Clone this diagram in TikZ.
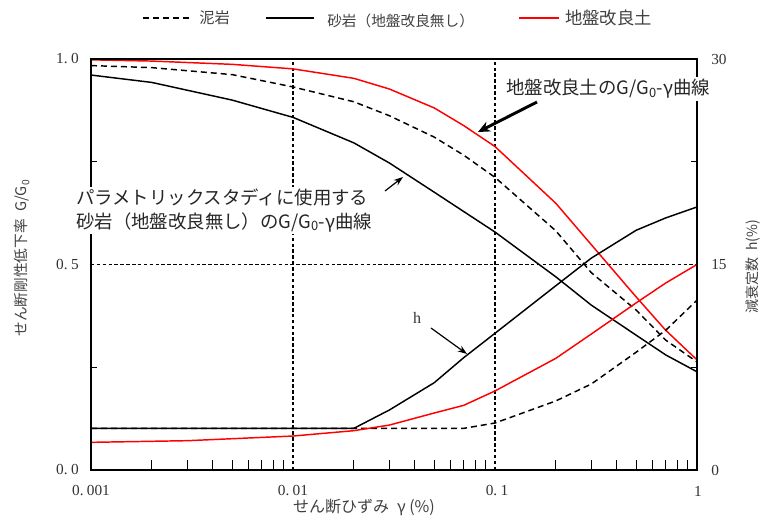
\documentclass[tikz,border=0pt]{standalone}
\usepackage{fontspec}
\setmainfont{Liberation Serif}
\newfontfamily\jp{Noto Sans CJK JP}
\usetikzlibrary{arrows.meta}
\begin{document}
\begin{tikzpicture}[x=0.75pt,y=-0.75pt,
  curve/.style={line width=1.1pt, line join=round},
  mud/.style={curve, dash pattern=on 4.5pt off 3pt},
  sand/.style={curve, black},
  imp/.style={curve, red},
  gridline/.style={line width=0.8pt, dash pattern=on 2.6pt off 1.8pt},
  framebox/.style={line width=1.5pt},
  tickmark/.style={line width=0.8pt},
  ticklab/.style={font=\fontsize{11.5}{12}\selectfont, text=black!80, inner sep=0pt},
  axtitle/.style={font=\jp\fontsize{11}{12}\selectfont, text=black!75, inner sep=0pt},
  legtext/.style={font=\jp\fontsize{11.5}{12}\selectfont, text=black!75, inner sep=0pt, anchor=west},
  callout/.style={font=\jp\fontsize{13.8}{17.3}\selectfont, text=black!85, fill=white, inner sep=1.5pt},
  thinarrow/.style={line width=0.9pt, -{Stealth[length=7pt,width=5pt]}},
  thickarrow/.style={line width=2.2pt, -{Stealth[length=9pt,width=8pt]}}]
\useasboundingbox (0,0) rectangle (765,515);

% ---------- data area ----------
\begin{scope}[shift={(91,470)}, x=151.5pt, y=308.25pt]
  % grid
  \draw[gridline] (1,0) -- (1,1);
  \draw[gridline] (2,0) -- (2,1);
  \draw[gridline] (0,0.5) -- (3,0.5);
  % minor ticks
  \foreach \d in {0,1,2}{
    \foreach \k in {2,...,9}{
      \draw[tickmark] ({\d+log10(\k)},0) -- ++(0,0.0243);
    }
  }
  \draw[tickmark] (0,0.25) -- ++(0.03,0);
  \draw[tickmark] (0,0.75) -- ++(0.03,0);
  \draw[tickmark] (3,0.25) -- ++(-0.03,0);
  \draw[tickmark] (3,0.75) -- ++(-0.03,0);

  % G/G0 curves
  \draw[mud] plot coordinates {(0,0.984) (0.30103,0.979) (0.69897,0.962) (1,0.932) (1.30103,0.896) (1.47712,0.862) (1.69897,0.810) (1.84510,0.766) (2,0.712) (2.30103,0.582) (2.47712,0.48) (2.69897,0.389) (2.84510,0.316) (3,0.263)};
  \draw[sand] plot coordinates {(0,0.961) (0.30103,0.943) (0.69897,0.900) (1,0.858) (1.30103,0.796) (1.47712,0.747) (1.69897,0.676) (2,0.579) (2.30103,0.470) (2.47712,0.401) (2.69897,0.328) (2.84510,0.280) (3,0.239)};
  \draw[imp] plot coordinates {(0,0.998) (0.30103,0.995) (0.69897,0.987) (1,0.976) (1.30103,0.953) (1.47712,0.927) (1.69897,0.881) (1.84510,0.838) (2,0.787) (2.30103,0.649) (2.47712,0.548) (2.69897,0.421) (2.84510,0.340) (3,0.268)};

  % damping curves (h in %)
  \begin{scope}[y=10.275pt]
    \draw[mud] plot coordinates {(0,3.04) (1.84510,3.04) (2,3.43) (2.30103,5.04) (2.47712,6.28) (2.69897,8.6) (2.84510,10.2) (3,12.4)};
    \draw[sand] plot coordinates {(0,3.04) (1.30103,3.04) (1.47712,4.38) (1.69897,6.37) (1.84510,8.2) (2,9.98) (2.30103,13.45) (2.47712,15.47) (2.69897,17.5) (2.84510,18.4) (3,19.2)};
    \draw[imp] plot coordinates {(0,2.02) (0.47712,2.14) (1,2.48) (1.30103,2.87) (1.47712,3.28) (1.69897,4.16) (1.84510,4.72) (2,5.77) (2.30103,8.15) (2.47712,9.93) (2.69897,12.2) (2.84510,13.65) (3,15.0)};
  \end{scope}

  % frame
  \draw[framebox] (0,0) rectangle (3,1);
\end{scope}

% ---------- tick labels ----------
\node[ticklab, anchor=east] (y10) at (79,59) {1.\kern2.5pt0};
\node[ticklab, anchor=east] (y05) at (79,265) {0.\kern2.5pt5};
\node[ticklab, anchor=east] (y00) at (79,470) {0.\kern2.5pt0};
\node[ticklab, anchor=west] (r30) at (711,59) {30};
\node[ticklab, anchor=west] (r15) at (711,265) {15};
\node[ticklab, anchor=west] (r0) at (711,470) {0};
\node[ticklab] (x1) at (91,491) {0.\kern2.5pt001};
\node[ticklab] (x2) at (293,491) {0.\kern2.5pt01};
\node[ticklab] (x3) at (497,491) {0.\kern2.5pt1};
\node[ticklab] (x4) at (698,491) {1};

% ---------- axis titles ----------
\node[axtitle, rotate=90] (ytitle) at (22,258) {せん断剛性低下率\enspace G/G\textsubscript{0}};
\node[axtitle, rotate=90, font=\jp\fontsize{10.5}{12}\selectfont] (rtitle) at (753,267) {減衰定数\enspace h(\%)};
\node[axtitle, font=\jp\fontsize{12}{13}\selectfont] (xtitle) at (364,507) {せん断ひずみ\enspace γ (\%)};

% ---------- legend ----------
\draw[mud] (143,18) -- (189,18);
\node[legtext] (leg1) at (199,18) {泥岩};
\draw[sand] (266,18) -- (314,18);
\node[legtext, font=\jp\fontsize{11}{12}\selectfont] (leg2) at (327,21) {砂岩（地盤改良無し）};
\draw[imp] (519,18) -- (559,18);
\node[legtext, font=\jp\fontsize{13}{14}\selectfont] (leg3) at (565,18) {地盤改良土};

% ---------- callouts ----------
\node[callout, anchor=west] (lab1) at (504,89) {地盤改良土のG/G\textsubscript{0}-γ曲線};
\coordinate (a1s) at (537,102);
\coordinate (a1e) at (478,132);
\draw[thickarrow] (a1s) -- (a1e);

\node[callout, anchor=north west, align=left] (lab2) at (74,187) {パラメトリックスタディに使用する\\砂岩（地盤改良無し）のG/G\textsubscript{0}-γ曲線};
\coordinate (a2s) at (385,191);
\coordinate (a2e) at (403,177);
\draw[thinarrow] (a2s) -- (a2e);

\node[font=\fontsize{12}{13}\selectfont, text=black!80, inner sep=0pt] (hlab) at (417,318) {h};
\coordinate (a3s) at (431,328);
\coordinate (a3e) at (467,354);
\draw[thinarrow] (a3s) -- (a3e);
\end{tikzpicture}
\end{document}
